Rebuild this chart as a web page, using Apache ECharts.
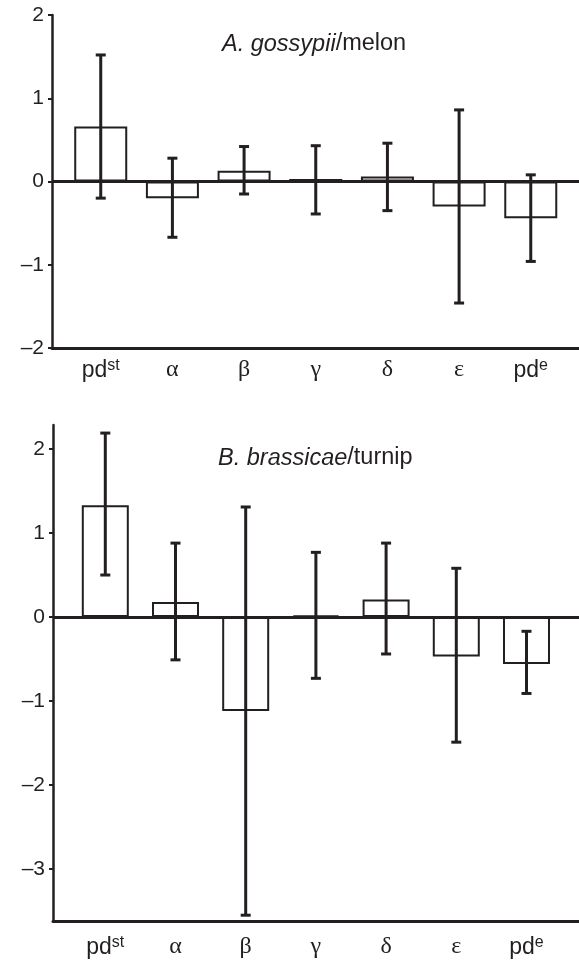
<!DOCTYPE html>
<html>
<head>
<meta charset="utf-8">
<script src="https://cdn.jsdelivr.net/npm/echarts@6/dist/echarts.min.js"></script>
<style>
  html, body { margin: 0; padding: 0; background: #fff; }
  #chart { width: 579px; height: 961px; }
</style>
</head>
<body>
<div id="chart"></div>
<script>
// category labels (rich text keys for the superscripts / greek letters)
var categories = ['{n|pd}{s|st}', '{g|α}', '{g|β}', '{g|γ}', '{g|δ}', '{g|ε}', '{n|pd}{s|e}']
var catIndex = [0, 1, 2, 3, 4, 5, 6]

// A. gossypii / melon
var melonMean = [0.66, -0.20, 0.13, 0.03, 0.06, -0.30, -0.44]
var melonLow = [-0.20, -0.67, -0.15, -0.39, -0.35, -1.46, -0.96]
var melonHigh = [1.52, 0.28, 0.42, 0.43, 0.46, 0.86, 0.08]

// B. brassicae / turnip
var turnipMean = [1.33, 0.18, -1.12, 0.02, 0.21, -0.47, -0.56]
var turnipLow = [0.50, -0.51, -3.55, -0.73, -0.44, -1.49, -0.91]
var turnipHigh = [2.19, 0.88, 1.31, 0.77, 0.88, 0.58, -0.17]

var yTicksTop = [-2, -1, 0, 1, 2]
var yTicksBottom = [-3, -2, -1, 0, 1, 2]

var ink = '#231f20'

function pairs(vals) {
  return vals.map(function (v, i) { return [catIndex[i], v] })
}
function triples(lo, hi) {
  return lo.map(function (v, i) { return [catIndex[i], v, hi[i]] })
}

var labelRich = {
  n: { fontFamily: 'Liberation Sans', fontSize: 23, color: ink },
  s: { fontFamily: 'Liberation Sans', fontSize: 16, color: ink, padding: [0, 0, 10, 0] },
  g: { fontFamily: 'Liberation Serif', fontSize: 24, color: ink }
}

function xAxisCfg(idx, min, max, margin) {
  return {
    type: 'value',
    gridIndex: idx,
    min: min,
    max: max,
    axisLine: { show: true, onZero: false, lineStyle: { color: ink, width: 3 } },
    axisTick: { show: false },
    splitLine: { show: false },
    axisLabel: {
      customValues: catIndex,
      margin: margin,
      formatter: function (v) { return categories[Math.round(v)] },
      rich: labelRich
    }
  }
}

function yAxisCfg(idx, min, max, ticks) {
  return {
    type: 'value',
    gridIndex: idx,
    min: min,
    max: max,
    axisLine: { show: true, onZero: false, lineStyle: { color: ink, width: 2.5 } },
    axisTick: { show: true, customValues: ticks, length: 4, lineStyle: { color: ink, width: 2 } },
    splitLine: { show: false },
    axisLabel: {
      customValues: ticks,
      margin: 8,
      color: ink,
      fontFamily: 'Liberation Sans',
      fontSize: 21,
      formatter: function (v) { return String(v).replace('-', '–') }
    }
  }
}

function barSeries(idx, vals, w) {
  return {
    type: 'bar',
    xAxisIndex: idx,
    yAxisIndex: idx,
    barWidth: w,
    data: pairs(vals),
    itemStyle: { color: '#fff', borderColor: ink, borderWidth: 2 },
    markLine: {
      silent: true,
      symbol: 'none',
      label: { show: false },
      lineStyle: { color: ink, width: 3, type: 'solid' },
      data: [{ yAxis: 0 }]
    },
    z: 2
  }
}

function errSeries(idx, lo, hi) {
  return {
    type: 'custom',
    xAxisIndex: idx,
    yAxisIndex: idx,
    encode: { x: 0, y: [1, 2] },
    data: triples(lo, hi),
    z: 4,
    renderItem: function (params, api) {
      var x = api.value(0)
      var pLo = api.coord([x, api.value(1)])
      var pHi = api.coord([x, api.value(2)])
      var cap = 5
      var st = { stroke: ink, lineWidth: 3 }
      return {
        type: 'group',
        children: [
          { type: 'line', shape: { x1: pLo[0], y1: pLo[1], x2: pHi[0], y2: pHi[1] }, style: st },
          { type: 'line', shape: { x1: pLo[0] - cap, y1: pLo[1], x2: pLo[0] + cap, y2: pLo[1] }, style: st },
          { type: 'line', shape: { x1: pHi[0] - cap, y1: pHi[1], x2: pHi[0] + cap, y2: pHi[1] }, style: st }
        ]
      }
    }
  }
}

var titleRich = {
  i: { fontFamily: 'Liberation Sans', fontStyle: 'italic', fontWeight: 'normal', fontSize: 23.5, color: ink },
  r: { fontFamily: 'Liberation Sans', fontWeight: 'normal', fontSize: 23.5, color: ink }
}

var chart = echarts.init(document.getElementById('chart'))
var option = {
  backgroundColor: '#fff',
  animation: false,
  title: [
    { text: '{i|A. gossypii}{r|/melon}', left: 222, top: 32, padding: 0, textStyle: { fontWeight: 'normal', rich: titleRich } },
    { text: '{i|B. brassicae}{r|/turnip}', left: 218, top: 446, padding: 0, textStyle: { fontWeight: 'normal', rich: titleRich } }
  ],
  grid: [
    { left: 52, top: 15, width: 527, height: 333 },
    { left: 53, top: 425, width: 526, height: 496 }
  ],
  xAxis: [xAxisCfg(0, -0.68, 6.673, 10), xAxisCfg(1, -0.745, 6.748, 14)],
  yAxis: [yAxisCfg(0, -2, 2, yTicksTop), yAxisCfg(1, -3.619, 2.286, yTicksBottom)],
  series: [
    barSeries(0, melonMean, 53),
    errSeries(0, melonLow, melonHigh),
    barSeries(1, turnipMean, 47),
    errSeries(1, turnipLow, turnipHigh)
  ]
}
chart.setOption(option)
</script>
</body>
</html>
